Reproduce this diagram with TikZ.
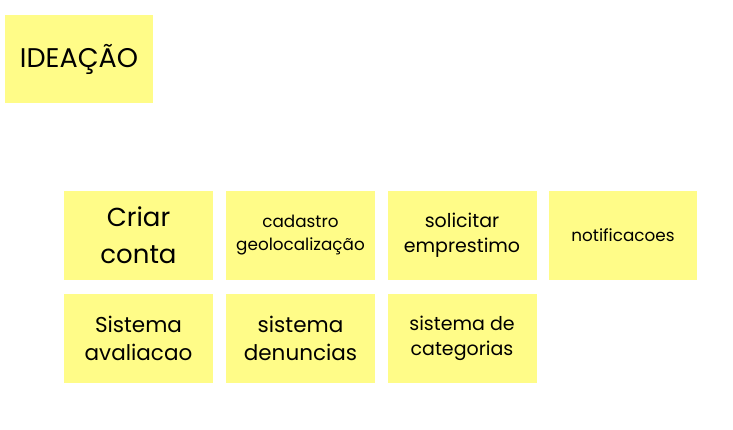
\documentclass[tikz,border=0pt]{standalone}
\usepackage{fontspec}
\setmainfont{Poppins}

\definecolor{postit}{HTML}{FFFC88}
\tikzset{
    nota/.style={fill=postit, minimum width=149pt, minimum height=89pt,
        align=center, inner sep=0pt, text=black},
    titulo/.style={font=\fontsize{27}{36}\selectfont},
    grande/.style={font=\fontsize{26}{37}\selectfont},
    media/.style={font=\fontsize{21.5}{28}\selectfont},
    pequena/.style={font=\fontsize{19}{25}\selectfont},
    mini/.style={font=\fontsize{16.8}{23}\selectfont}
}

\begin{document}
\begin{tikzpicture}[x=1pt, y=-1pt]
    \useasboundingbox (0,0) rectangle (733,429);

    \node[nota, titulo, minimum width=148pt, minimum height=88pt] (ideacao) at (79,59) {IDEAÇÃO};

    \node[nota, grande] (criar) at (138.5,235.5) {Criar\\conta};
    \node[nota, mini] (cadastro) at (300.5,235.5) {cadastro\\geolocalização};
    \node[nota, pequena] (solicitar) at (462,235.5) {solicitar\\emprestimo};
    \node[nota, mini, minimum width=148pt] (notif) at (623,235.5) {notificacoes};

    \node[nota, media] (avaliacao) at (138.5,338) {Sistema\\avaliacao};
    \node[nota, media] (denuncias) at (300.5,338) {sistema\\denuncias};
    \node[nota, pequena] (categorias) at (462,338) {sistema de\\categorias};
\end{tikzpicture}
\end{document}
